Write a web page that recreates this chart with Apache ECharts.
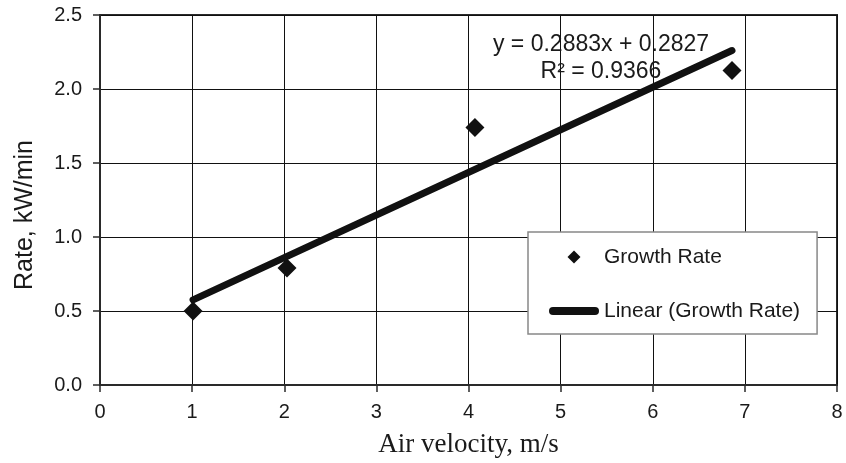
<!DOCTYPE html>
<html>
<head>
<meta charset="utf-8">
<script src="https://cdn.jsdelivr.net/npm/echarts@6/dist/echarts.min.js"></script>
<style>
  html, body { margin: 0; padding: 0; background: #fff; }
  #container { width: 846px; height: 463px; }
</style>
</head>
<body>
<div id="container"></div>
<script>
// measured points (air velocity m/s, rate kW/min)
let velocity = [1.01, 2.03, 4.07, 6.86];
let growthRate = [0.50, 0.79, 1.74, 2.125];
// trend line end points
let trendX = [1.01, 6.86];
let trendY = [0.575, 2.26];
let xTicks = [0, 8, 1];
let yTicks = [0, 2.5, 0.5];
let equationText = 'y = 0.2883x + 0.2827\nR² = 0.9366';

let dom = document.getElementById('container');
let myChart = echarts.init(dom);

let sans = 'Liberation Sans, Arial, sans-serif';
// legend icons (kept square / flat by symbolKeepAspect)
let diamondIcon = 'path://M0,-1L1,0L0,1L-1,0Z';
let barIcon = 'path://M4,0L46,0A4,4 0 0 1 46,8L4,8A4,4 0 0 1 4,0Z';

let option = {
  animation: false,
  grid: {
    left: 100,
    right: 9,
    top: 15,
    bottom: 77,
    show: true,
    borderColor: '#2a2a2a',
    borderWidth: 2
  },
  xAxis: {
    type: 'value',
    min: xTicks[0],
    max: xTicks[1],
    interval: xTicks[2],
    name: 'Air velocity, m/s',
    nameLocation: 'middle',
    nameGap: 46,
    nameTextStyle: {
      fontFamily: 'Liberation Serif, Times New Roman, serif',
      fontSize: 27,
      color: '#1a1a1a'
    },
    axisLine: { show: true, onZero: false, lineStyle: { color: '#2a2a2a', width: 2 } },
    axisTick: { show: true, inside: false, length: 7, lineStyle: { color: '#2a2a2a', width: 1.5 } },
    axisLabel: {
      margin: 17,
      fontFamily: sans,
      fontSize: 20,
      color: '#1a1a1a'
    },
    splitLine: { show: true, lineStyle: { color: '#111', width: 1 } }
  },
  yAxis: {
    type: 'value',
    min: yTicks[0],
    max: yTicks[1],
    interval: yTicks[2],
    name: 'Rate, kW/min',
    nameLocation: 'middle',
    nameGap: 62,
    nameTextStyle: {
      fontFamily: sans,
      fontSize: 25,
      color: '#1a1a1a',
      padding: [0, 30, 0, 0]
    },
    axisLine: { show: true, onZero: false, lineStyle: { color: '#2a2a2a', width: 2 } },
    axisTick: { show: true, inside: false, length: 7, lineStyle: { color: '#2a2a2a', width: 1.5 } },
    axisLabel: {
      margin: 18,
      fontFamily: sans,
      fontSize: 20,
      color: '#1a1a1a',
      formatter: function (v) { return v.toFixed(1); }
    },
    splitLine: { show: true, lineStyle: { color: '#111', width: 1 } }
  },
  legend: {
    orient: 'vertical',
    left: 528,
    top: 232,
    padding: [13, 17, 11, 21],
    itemGap: 30,
    itemWidth: 50,
    itemHeight: 13,
    symbolKeepAspect: true,
    backgroundColor: '#fff',
    borderColor: '#888',
    borderWidth: 1.5,
    borderRadius: 0,
    itemStyle: { opacity: 1 },
    textStyle: {
      fontFamily: sans,
      fontSize: 21,
      color: '#1a1a1a',
      lineHeight: 24
    },
    data: [
      { name: 'Growth Rate', icon: diamondIcon },
      { name: 'Linear (Growth Rate)', icon: barIcon }
    ]
  },
  graphic: [{
    type: 'text',
    x: 601,
    y: 58,
    z: 50,
    style: {
      text: equationText,
      font: '23px ' + sans,
      fill: '#1a1a1a',
      align: 'center',
      verticalAlign: 'middle',
      lineHeight: 27
    }
  }],
  series: [
    {
      name: 'Growth Rate',
      type: 'scatter',
      symbol: 'diamond',
      symbolSize: 19,
      itemStyle: { color: '#111', opacity: 1 },
      data: velocity.map(function (v, i) { return [v, growthRate[i]]; }),
      z: 3
    },
    {
      name: 'Linear (Growth Rate)',
      type: 'line',
      showSymbol: false,
      symbol: 'none',
      itemStyle: { color: '#111', opacity: 1 },
      lineStyle: { color: '#111', width: 7, cap: 'round' },
      data: trendX.map(function (v, i) { return [v, trendY[i]]; }),
      z: 4
    }
  ]
};

myChart.setOption(option);
</script>
</body>
</html>
